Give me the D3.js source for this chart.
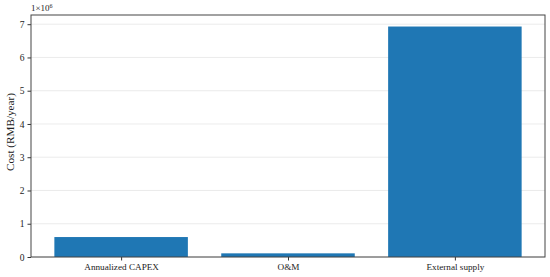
<!DOCTYPE html>
<html>
<head>
<meta charset="utf-8">
<script src="https://cdn.jsdelivr.net/npm/d3@7"></script>
<style>
  body { margin: 0; background: #fff; }
  text { font-family: "Liberation Serif", "DejaVu Serif", serif; }
</style>
</head>
<body>
<svg id="chart" width="550" height="277"></svg>
<script>
// data
var categories = ["Annualized CAPEX", "O&M", "External supply"];
var costs = [0.60e6, 0.11e6, 6.93e6];
var yTicks = [0, 1, 2, 3, 4, 5, 6, 7];

var svg = d3.select("#chart");
var padL = 31, padR = 545, padT = 15, padB = 257;

// matplotlib style: bar width 0.8, 5% margins
var x = d3.scaleLinear().domain([-0.54, 2.54]).range([padL, padR]);
var yMax = d3.max(costs) * 1.05;
var y = d3.scaleLinear().domain([0, yMax / 1e6]).range([padB, padT]);

// grid
svg.append("g")
    .selectAll("line")
    .data(yTicks)
    .enter()
    .append("line")
    .attr("x1", padL).attr("x2", padR)
    .attr("y1", function (d) { return y(d); })
    .attr("y2", function (d) { return y(d); })
    .attr("stroke", "#e6e6e6")
    .attr("stroke-width", 0.8);

// bars
svg.append("g")
    .selectAll("rect")
    .data(costs)
    .enter()
    .append("rect")
    .attr("x", function (d, i) { return x(i - 0.4); })
    .attr("width", function (d, i) { return x(i + 0.4) - x(i - 0.4); })
    .attr("y", function (d) { return y(d / 1e6); })
    .attr("height", function (d) { return padB - y(d / 1e6); })
    .attr("fill", "#1f77b4");

// y axis
var yAxis = d3.axisLeft(y).tickValues(yTicks).tickSize(3.5).tickPadding(3)
    .tickFormat(d3.format("d"));
var gy = svg.append("g").attr("transform", "translate(" + padL + ",0)").call(yAxis);
gy.select(".domain").remove();
gy.selectAll("text").attr("font-size", 9.5).attr("fill", "#222")
    .style("font-family", "'Liberation Serif', serif");
gy.selectAll("line").attr("stroke", "#333");

// x axis
var xAxis = d3.axisBottom(x).tickValues([0, 1, 2]).tickSize(3.5).tickPadding(3)
    .tickFormat(function (d) { return categories[d]; });
var gx = svg.append("g").attr("transform", "translate(0," + padB + ")").call(xAxis);
gx.select(".domain").remove();
gx.selectAll("text").attr("font-size", 9.2).attr("fill", "#222")
    .style("font-family", "'Liberation Serif', serif");
gx.selectAll("line").attr("stroke", "#333");

// frame
svg.append("rect")
    .attr("x", padL).attr("y", padT)
    .attr("width", padR - padL).attr("height", padB - padT)
    .attr("fill", "none")
    .attr("stroke", "#444")
    .attr("stroke-width", 1);

// offset text
var off = svg.append("text")
    .attr("x", padL).attr("y", padT - 4)
    .attr("font-size", 9)
    .attr("fill", "#222");
off.append("tspan").text("1×10");
off.append("tspan").attr("dy", -3).attr("font-size", 6).text("6");

// y label
svg.append("text")
    .attr("transform", "translate(14,132) rotate(-90)")
    .attr("text-anchor", "middle")
    .attr("font-size", 11.2)
    .attr("fill", "#222")
    .text("Cost (RMB/year)");
</script>
</body>
</html>
